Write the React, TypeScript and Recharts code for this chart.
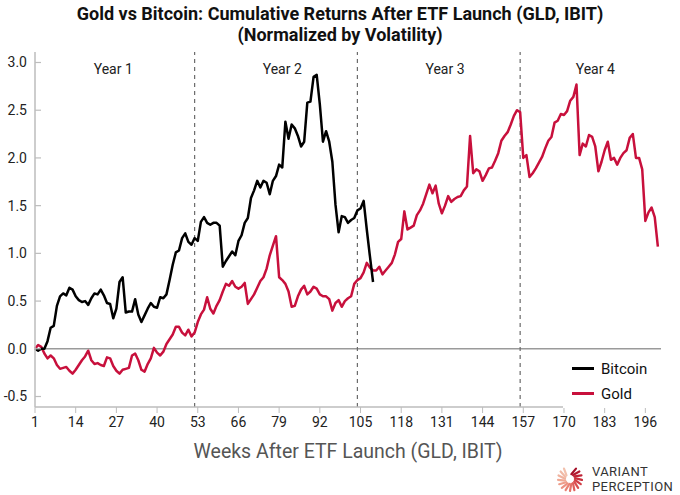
import React from "react";
import {
  LineChart,
  Line,
  XAxis,
  YAxis,
  ReferenceLine,
  ReferenceDot,
  Legend,
} from "recharts";

// weekly cumulative returns, normalized by volatility (week 1 onward)
const goldValues = [
  0.0, 0.04, 0.02, -0.05, -0.1, -0.07, -0.1, -0.17, -0.21, -0.2,
  -0.19, -0.23, -0.26, -0.22, -0.17, -0.12, -0.08, -0.02, -0.12, -0.16,
  -0.15, -0.17, -0.18, -0.09, -0.1, -0.18, -0.23, -0.26, -0.22, -0.21,
  -0.2, -0.07, -0.05, -0.12, -0.22, -0.24, -0.16, -0.1, 0.01, -0.04,
  -0.07, -0.03, 0.05, 0.1, 0.15, 0.23, 0.23, 0.17, 0.14, 0.2,
  0.13, 0.17, 0.28, 0.36, 0.41, 0.54, 0.42, 0.37, 0.45, 0.51,
  0.6, 0.68, 0.66, 0.71, 0.65, 0.63, 0.65, 0.69, 0.47, 0.52,
  0.57, 0.64, 0.71, 0.75, 0.84, 0.98, 1.08, 1.18, 0.75, 0.72,
  0.68, 0.6, 0.44, 0.45, 0.55, 0.62, 0.66, 0.57, 0.6, 0.65,
  0.63, 0.57, 0.55, 0.55, 0.52, 0.4, 0.48, 0.51, 0.44, 0.5,
  0.53, 0.55, 0.68, 0.72, 0.74, 0.8, 0.9, 0.85, 0.82, 0.82,
  0.86, 0.78, 0.82, 0.86, 0.9, 0.99, 1.12, 1.15, 1.44, 1.25,
  1.27, 1.29, 1.4, 1.45, 1.52, 1.62, 1.72, 1.63, 1.71, 1.52,
  1.42, 1.5, 1.6, 1.54, 1.57, 1.59, 1.6, 1.66, 1.7, 2.23,
  1.84, 1.88, 1.86, 1.76, 1.82, 1.89, 1.9, 1.97, 2.05, 2.18,
  2.23, 2.27, 2.35, 2.44, 2.5, 2.48, 2.0, 2.03, 1.8, 1.84,
  1.89, 1.95, 2.01, 2.1, 2.18, 2.22, 2.37, 2.39, 2.46, 2.45,
  2.49, 2.6, 2.64, 2.77, 2.03, 2.15, 2.12, 2.24, 2.22, 2.12,
  1.86, 1.96, 2.08, 2.17, 1.98, 2.0, 1.93, 2.0, 2.05, 2.08,
  2.21, 2.25, 2.0, 2.0, 1.88, 1.34, 1.43, 1.48, 1.38, 1.07,
];

const bitcoinValues = [
  0.0, -0.02, 0.0, 0.0, 0.08, 0.22, 0.24, 0.45, 0.55, 0.58,
  0.56, 0.64, 0.62, 0.55, 0.51, 0.49, 0.5, 0.46, 0.53, 0.58,
  0.57, 0.62, 0.56, 0.48, 0.47, 0.32, 0.42, 0.7, 0.75, 0.38,
  0.39, 0.39, 0.52, 0.36, 0.28, 0.35, 0.42, 0.48, 0.44, 0.43,
  0.54, 0.53, 0.57, 0.72, 0.88, 1.01, 1.03, 1.16, 1.21, 1.12,
  1.09, 1.16, 1.13, 1.33, 1.38, 1.32, 1.3, 1.32, 1.32, 1.29,
  0.86, 0.92, 0.97, 1.02, 0.98, 1.13, 1.19, 1.32, 1.37, 1.58,
  1.66, 1.76, 1.69, 1.76, 1.74, 1.62, 1.76, 1.81, 1.93, 1.9,
  2.38, 2.2, 2.35, 2.31, 2.23, 2.12, 2.17, 2.58, 2.59, 2.85,
  2.87, 2.56, 2.17, 2.28, 2.17, 1.96, 1.51, 1.22, 1.39, 1.38,
  1.32, 1.35, 1.37, 1.45, 1.47, 1.55, 1.25, 0.97, 0.7,
];

const xTicks = [1, 14, 27, 40, 53, 66, 79, 92, 105, 118, 131, 144, 157, 170, 183, 196];
const yTicks = [-0.5, 0, 0.5, 1, 1.5, 2, 2.5, 3];
const yearBreaks = [52, 104, 156];
const yearLabels = ["Year 1", "Year 2", "Year 3", "Year 4"];
const yearLabelWeeks = [26, 80, 132, 180];

const GOLD = "#c8103c";
const AXIS = "#bdbdbd";
const FONT = "Roboto, 'Noto Sans', sans-serif";

const rows = goldValues.map((g, i) => ({
  week: i + 1,
  gold: g,
  bitcoin: i < bitcoinValues.length ? bitcoinValues[i] : null,
}));

// y ticks point into the plot, labels sit outside
const YTick = (props: any) => {
  const { x, y, payload } = props;
  const axisX = x + 8;
  return (
    <g>
      <line x1={axisX} x2={axisX + 6} y1={y} y2={y} stroke={AXIS} strokeWidth={1.2} />
      <text x={x} y={y} dy="0.35em" textAnchor="end" fontSize={14} fill="#222" fontFamily={FONT}>
        {Number(payload.value).toFixed(1)}
      </text>
    </g>
  );
};

const LegendBox = () => (
  <div
    style={{
      background: "#fff",
      width: 98,
      height: 56,
      boxSizing: "border-box",
      padding: "4px 0 0 9px",
      fontFamily: FONT,
      fontSize: 15,
      color: "#111",
    }}
  >
    {[
      { name: "Bitcoin", color: "#000" },
      { name: "Gold", color: GOLD },
    ].map((d) => (
      <div key={d.name} style={{ display: "flex", alignItems: "center", height: 25 }}>
        <span style={{ width: 22, height: 3, background: d.color, marginRight: 7 }} />
        {d.name}
      </div>
    ))}
  </div>
);

const Logo = () => {
  const rays = 15;
  const colors = [
    "#a5122a", "#b3182f", "#bf2336", "#c9303d", "#d23f46", "#da4f50",
    "#e0605c", "#e57168", "#e98274", "#ec9180", "#ee9e8b", "#efa995",
    "#f0b29e", "#f1baa6", "#f2c1ad",
  ];
  return (
    <svg width={30} height={30} style={{ position: "absolute", left: 556, top: 464 }}>
      {Array.from({ length: rays }).map((_, i) => {
        const a = ((-60 + (i * 300) / (rays - 1)) * Math.PI) / 180;
        const cx = 14;
        const cy = 15;
        return (
          <line
            key={i}
            x1={cx + Math.cos(a - 0.25) * 5}
            y1={cy + Math.sin(a - 0.25) * 5}
            x2={cx + Math.cos(a) * 12}
            y2={cy + Math.sin(a) * 12}
            stroke={colors[i]}
            strokeWidth={2.2}
            strokeLinecap="round"
          />
        );
      })}
    </svg>
  );
};

export default function App() {
  return (
    <div
      style={{
        position: "relative",
        width: 680,
        height: 495,
        background: "#fff",
        fontFamily: FONT,
        overflow: "hidden",
      }}
    >
      <style>{`body{margin:0}`}</style>
      <div
        style={{
          position: "absolute",
          top: 3,
          left: 0,
          width: 680,
          textAlign: "center",
          fontWeight: 700,
          fontSize: 18,
          lineHeight: "21px",
          color: "#111",
        }}
      >
        Gold vs Bitcoin: Cumulative Returns After ETF Launch (GLD, IBIT)
        <br />
        (Normalized by Volatility)
      </div>

      <LineChart
        width={680}
        height={495}
        data={rows}
        margin={{ top: 52, right: 19, left: 0, bottom: 58 }}
      >
        <XAxis
          dataKey="week"
          type="number"
          domain={[1, 201]}
          ticks={xTicks}
          interval={0}
          height={30}
          tickSize={6}
          tickMargin={4}
          tick={{ fill: "#222", fontSize: 14, fontFamily: FONT }}
          tickLine={{ stroke: AXIS }}
          axisLine={{ stroke: AXIS, strokeWidth: 1.5 }}
        />
        <YAxis
          domain={[-0.61, 3.11]}
          ticks={yTicks}
          interval={0}
          width={35}
          tickLine={false}
          tick={<YTick />}
          axisLine={{ stroke: AXIS, strokeWidth: 1.5 }}
          allowDataOverflow
        />
        <YAxis
          yAxisId="frame"
          orientation="right"
          width={0}
          tick={false}
          tickLine={false}
          axisLine={{ stroke: AXIS, strokeWidth: 1.5 }}
        />
        <ReferenceLine y={0} stroke="#9a9a9a" strokeWidth={1.5} />
        {yearBreaks.map((w) => (
          <ReferenceLine
            key={w}
            x={w}
            stroke="#6b6b6b"
            strokeWidth={1.2}
            strokeDasharray="4 4"
          />
        ))}
        {yearLabels.map((t, i) => (
          <ReferenceDot
            key={t}
            x={yearLabelWeeks[i]}
            y={2.93}
            r={0}
            fill="none"
            stroke="none"
            label={{ value: t, position: "center", fontSize: 14, fill: "#222", fontFamily: FONT }}
          />
        ))}
        <Line
          dataKey="gold"
          stroke={GOLD}
          strokeWidth={2.5}
          dot={false}
          isAnimationActive={false}
          strokeLinejoin="round"
        />
        <Line
          dataKey="bitcoin"
          stroke="#000"
          strokeWidth={2.5}
          dot={false}
          isAnimationActive={false}
          strokeLinejoin="round"
          connectNulls={false}
        />
        <Legend
          layout="vertical"
          align="center"
          verticalAlign="middle"
          content={<LegendBox />}
          wrapperStyle={{ left: 563, top: 352, width: 98, height: 56 }}
        />
      </LineChart>

      <div
        style={{
          position: "absolute",
          top: 440,
          left: 35,
          width: 626,
          textAlign: "center",
          fontSize: 19.5,
          lineHeight: "24px",
          color: "#555",
        }}
      >
        Weeks After ETF Launch (GLD, IBIT)
      </div>

      <Logo />
      <div
        style={{
          position: "absolute",
          left: 592,
          top: 464,
          fontSize: 13,
          lineHeight: "15px",
          color: "#333",
          letterSpacing: 0.4,
        }}
      >
        <div>VARIANT</div>
        <div>PERCEPTION</div>
      </div>
    </div>
  );
}
